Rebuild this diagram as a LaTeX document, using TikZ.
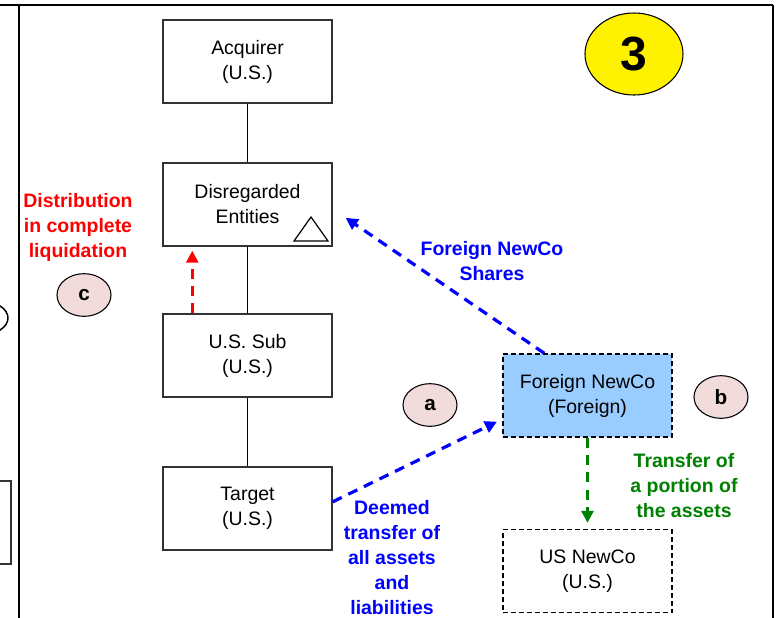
\documentclass[tikz,border=0pt]{standalone}
\usepackage{fontspec}
\setmainfont{Liberation Sans}
\usetikzlibrary{shapes.geometric,arrows.meta}
\definecolor{newcoblue}{HTML}{99CCFF}
\definecolor{markpink}{HTML}{F2DCDB}
\definecolor{flowgreen}{HTML}{008000}
\begin{document}
\begin{tikzpicture}[x=0.75pt,y=-0.75pt,
  every node/.style={font=\fontsize{14.6}{18.75}\selectfont,align=center},
  entity/.style={draw=black!80,line width=1.1pt,fill=white,minimum width=126.75pt,minimum height=62.25pt},
  newentity/.style={entity,draw=black,dash pattern=on 3.75pt off 2.25pt},
  stepmark/.style={ellipse,draw,line width=0.8pt,fill=markpink,minimum width=40.5pt,minimum height=32pt,inner sep=0pt,font=\fontsize{15.5}{18.75}\selectfont\bfseries},
  flow/.style={line width=2.4pt,dash pattern=on 7.5pt off 5.5pt,-{Triangle[length=9pt,width=9pt]}},
  note/.style={font=\fontsize{14.6}{18.75}\selectfont\bfseries}]
\useasboundingbox (0,0) rectangle (776,618);
% frame and the cut-off neighbours on the left
\draw[line width=2.2pt] (0,5) -- (773,5) (19,5) -- (19,618) (773,5) -- (773,618);
\draw[line width=1.1pt] (-19,318) ellipse (27 and 17);
\draw[line width=1.1pt,draw=black!80] (-100,481) rectangle (11,564);

\node[entity] (acq) at (247.5,61.5) {Acquirer\\(U.S.)};
\node[entity] (dis) at (247.5,204.5) {Disregarded\\Entities};
\node[entity] (sub) at (247.5,355.5) {U.S. Sub\\(U.S.)};
\node[entity] (tgt) at (247.5,508.5) {Target\\(U.S.)};
\draw[line width=0.9pt] (294,241) -- (328,241) -- (311,217) -- cycle;
\draw[line width=1.1pt] (acq) -- (dis) (dis) -- (sub) (sub) -- (tgt);

\node[newentity,fill=newcoblue] (fnc) at (587.5,395.5) {Foreign NewCo\\(Foreign)};
\node[newentity] (usn) at (587.5,571) {US NewCo\\(U.S.)};

\node[ellipse,draw,line width=0.8pt,fill=yellow,minimum width=73.5pt,minimum height=61.5pt,font=\fontsize{36}{40}\selectfont\bfseries] (num) at (634,54) {3};
\node[stepmark] (c) at (84,295) {c};
\node[stepmark] (a) at (430,405) {a};
\node[stepmark] (b) at (721,397) {b};

\node[note,text=red] (distlbl) at (78,227) {Distribution\\in complete\\liquidation};
\node[note,text=blue] (shrlbl) at (492,261) {Foreign NewCo\\Shares};
\node[note,text=blue] (deemlbl) at (392,558) {Deemed\\transfer of\\all assets\\and\\liabilities};
\node[note,text=flowgreen] (portlbl) at (684,486) {Transfer of\\a portion of\\the assets};

\draw[flow,red] ([xshift=22.5pt]sub.north west) -- ([xshift=22.5pt,yshift=-3pt]dis.south west);
\draw[flow,blue] ([xshift=31.5pt]fnc.north west) -- ([xshift=9.75pt,yshift=-10pt]dis.east);
\draw[flow,blue] ([yshift=5pt]tgt.east) -- ([xshift=-4pt,yshift=12pt]fnc.south west);
\draw[flow,flowgreen,shorten >=4.5pt] (fnc) -- (usn);
\end{tikzpicture}
\end{document}
